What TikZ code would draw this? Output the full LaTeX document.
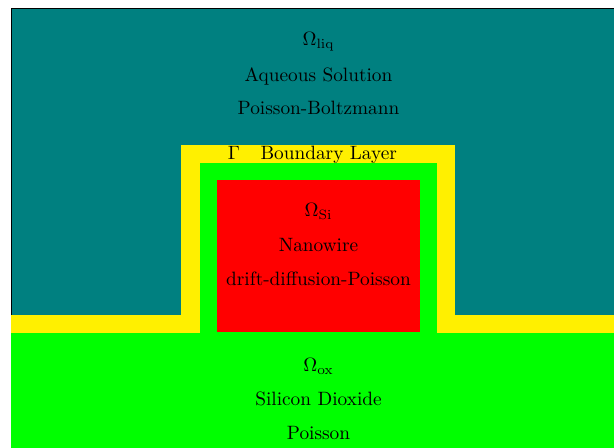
\documentclass[tikz,border=0pt]{standalone}
\usepackage{amsmath,amssymb}
\usetikzlibrary{positioning}
\definecolor{liquidteal}{HTML}{008080}
\definecolor{layeryellow}{HTML}{FFF000}
\definecolor{oxidegreen}{HTML}{00FF00}
\definecolor{wirered}{HTML}{FF0000}
\tikzset{
  regionlabel/.style={anchor=base, inner sep=0pt, text=black, font=\normalsize},
}

\begin{document}
\begin{tikzpicture}[x=0.0182cm, y=-0.0182cm]
  \useasboundingbox (0,0) rectangle (614,448);
  \clip (0,0) rectangle (614,448);

  % Aqueous solution (top)
  \filldraw[fill=liquidteal, draw=black, thin] (11,8) rectangle (640,470);

  % Boundary layer
  \fill[layeryellow] (11,315) rectangle (614,333);
  \fill[layeryellow] (181,145) rectangle (455,333);

  % Silicon dioxide (bottom and around the wire)
  \fill[oxidegreen] (11,333) rectangle (614,448);
  \fill[oxidegreen] (200,163) rectangle (437,333);

  % Nanowire
  \fill[wirered] (217,180) rectangle (420,332);

  % Labels
  \node[regionlabel] (liqsym)  at (318.5,46)  {$\Omega_{\mathrm{liq}}$};
  \node[regionlabel] (liqname) at (318.5,81.5) {Aqueous Solution};
  \node[regionlabel] (liqeq)   at (318.5,114.5) {Poisson-Boltzmann};

  \node[regionlabel] (gamma)   at (234,159.5) {$\Gamma$};
  \node[regionlabel] (layer)   at (328.7,159.5) {Boundary Layer};

  \node[regionlabel] (sisym)   at (318.5,216.5) {$\Omega_{\mathrm{Si}}$};
  \node[regionlabel] (siname)  at (318.5,251.5) {Nanowire};
  \node[regionlabel] (sieq)    at (318.5,285.5) {drift-diffusion-Poisson};

  \node[regionlabel] (oxsym)   at (318.5,371.5) {$\Omega_{\mathrm{ox}}$};
  \node[regionlabel] (oxname)  at (318.5,405) {Silicon Dioxide};
  \node[regionlabel] (oxeq)    at (318.5,439) {Poisson};
\end{tikzpicture}
\end{document}
